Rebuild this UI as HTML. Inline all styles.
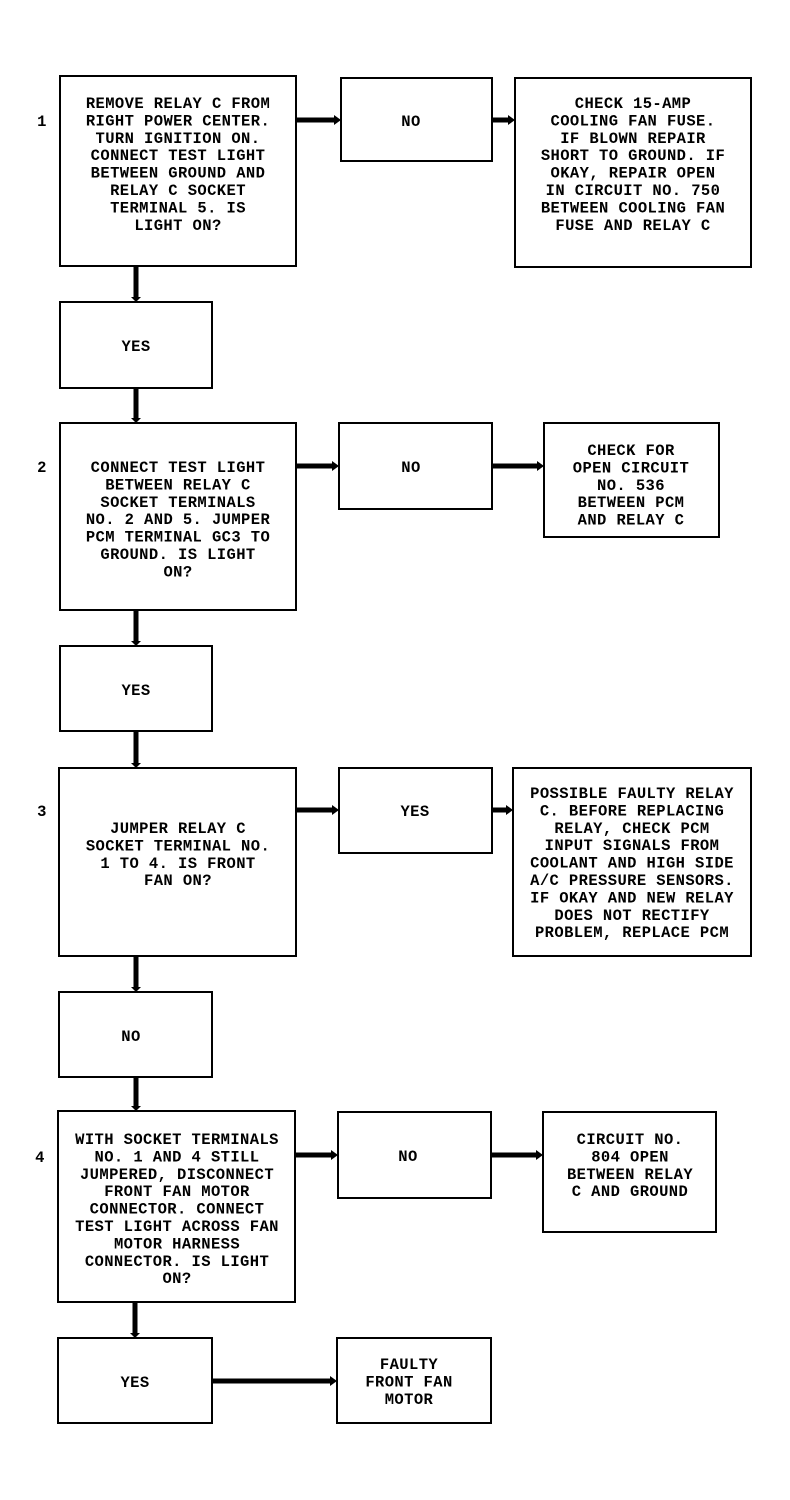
<!DOCTYPE html>
<html><head><meta charset="utf-8"><style>
html,body{margin:0;padding:0;background:#fff;}
svg{display:block}
text{font-family:"Liberation Mono",monospace;font-weight:bold;font-size:15.5px;fill:#000;text-anchor:middle;letter-spacing:0.4px}
rect{fill:#fff;stroke:#000;stroke-width:2}
.a{stroke:#000;stroke-width:5;fill:none}
</style></head><body>
<svg width="790" height="1500" viewBox="0 0 790 1500" xmlns="http://www.w3.org/2000/svg">
<!-- connectors -->
<g class="a">
<line x1="296" y1="120" x2="336" y2="120"/><line x1="492" y1="120" x2="510" y2="120"/>
<line x1="136" y1="266" x2="136" y2="298"/><line x1="136" y1="388" x2="136" y2="419"/>
<line x1="296" y1="466" x2="334" y2="466"/><line x1="492" y1="466" x2="539" y2="466"/>
<line x1="136" y1="610" x2="136" y2="642"/><line x1="136" y1="731" x2="136" y2="764"/>
<line x1="296" y1="810" x2="334" y2="810"/><line x1="492" y1="810" x2="508" y2="810"/>
<line x1="136" y1="956" x2="136" y2="988"/><line x1="136" y1="1077" x2="136" y2="1107"/>
<line x1="295" y1="1155" x2="333" y2="1155"/><line x1="491" y1="1155" x2="538" y2="1155"/>
<line x1="135" y1="1302" x2="135" y2="1334"/><line x1="212" y1="1381" x2="332" y2="1381"/>
</g>
<g fill="#000">
<polygon points="334,115 341,120 334,125"/><polygon points="508,115 515,120 508,125"/>
<polygon points="131,297 136,302 141,297"/><polygon points="131,418 136,423 141,418"/>
<polygon points="332,461 339,466 332,471"/><polygon points="537,461 544,466 537,471"/>
<polygon points="131,641 136,646 141,641"/><polygon points="131,763 136,768 141,763"/>
<polygon points="332,805 339,810 332,815"/><polygon points="506,805 513,810 506,815"/>
<polygon points="131,987 136,992 141,987"/><polygon points="131,1106 136,1111 141,1106"/>
<polygon points="331,1150 338,1155 331,1160"/><polygon points="536,1150 543,1155 536,1160"/>
<polygon points="130,1333 135,1338 140,1333"/><polygon points="330,1376 337,1381 330,1386"/>
</g>
<!-- boxes -->
<rect x="60" y="76" width="236" height="190"/><rect x="341" y="78" width="151" height="83"/><rect x="515" y="78" width="236" height="189"/>
<rect x="60" y="302" width="152" height="86"/>
<rect x="60" y="423" width="236" height="187"/><rect x="339" y="423" width="153" height="86"/><rect x="544" y="423" width="175" height="114"/>
<rect x="60" y="646" width="152" height="85"/>
<rect x="59" y="768" width="237" height="188"/><rect x="339" y="768" width="153" height="85"/><rect x="513" y="768" width="238" height="188"/>
<rect x="59" y="992" width="153" height="85"/>
<rect x="58" y="1111" width="237" height="191"/><rect x="338" y="1112" width="153" height="86"/><rect x="543" y="1112" width="173" height="120"/>
<rect x="58" y="1338" width="154" height="85"/><rect x="337" y="1338" width="154" height="85"/>
<!-- step numbers -->
<text x="42" y="126">1</text><text x="42" y="472">2</text><text x="42" y="816">3</text><text x="40" y="1162">4</text>
<!-- texts -->
<text x="178" y="108"><tspan x="178">REMOVE RELAY C FROM</tspan><tspan x="178" dy="17.4">RIGHT POWER CENTER.</tspan><tspan x="178" dy="17.4">TURN IGNITION ON.</tspan><tspan x="178" dy="17.4">CONNECT TEST LIGHT</tspan><tspan x="178" dy="17.4">BETWEEN GROUND AND</tspan><tspan x="178" dy="17.4">RELAY C SOCKET</tspan><tspan x="178" dy="17.4">TERMINAL 5. IS</tspan><tspan x="178" dy="17.4">LIGHT ON?</tspan></text>
<text x="411" y="126">NO</text>
<text x="633" y="108"><tspan x="633">CHECK 15-AMP</tspan><tspan x="633" dy="17.4">COOLING FAN FUSE.</tspan><tspan x="633" dy="17.4">IF BLOWN REPAIR</tspan><tspan x="633" dy="17.4">SHORT TO GROUND. IF</tspan><tspan x="633" dy="17.4">OKAY, REPAIR OPEN</tspan><tspan x="633" dy="17.4">IN CIRCUIT NO. 750</tspan><tspan x="633" dy="17.4">BETWEEN COOLING FAN</tspan><tspan x="633" dy="17.4">FUSE AND RELAY C</tspan></text>
<text x="136" y="351">YES</text>
<text x="178" y="472"><tspan x="178">CONNECT TEST LIGHT</tspan><tspan x="178" dy="17.4">BETWEEN RELAY C</tspan><tspan x="178" dy="17.4">SOCKET TERMINALS</tspan><tspan x="178" dy="17.4">NO. 2 AND 5. JUMPER</tspan><tspan x="178" dy="17.4">PCM TERMINAL GC3 TO</tspan><tspan x="178" dy="17.4">GROUND. IS LIGHT</tspan><tspan x="178" dy="17.4">ON?</tspan></text>
<text x="411" y="472">NO</text>
<text x="631" y="455"><tspan x="631">CHECK FOR</tspan><tspan x="631" dy="17.4">OPEN CIRCUIT</tspan><tspan x="631" dy="17.4">NO. 536</tspan><tspan x="631" dy="17.4">BETWEEN PCM</tspan><tspan x="631" dy="17.4">AND RELAY C</tspan></text>
<text x="136" y="695">YES</text>
<text x="178" y="833"><tspan x="178">JUMPER RELAY C</tspan><tspan x="178" dy="17.4">SOCKET TERMINAL NO.</tspan><tspan x="178" dy="17.4">1 TO 4. IS FRONT</tspan><tspan x="178" dy="17.4">FAN ON?</tspan></text>
<text x="415" y="816">YES</text>
<text x="632" y="798"><tspan x="632">POSSIBLE FAULTY RELAY</tspan><tspan x="632" dy="17.4">C. BEFORE REPLACING</tspan><tspan x="632" dy="17.4">RELAY, CHECK PCM</tspan><tspan x="632" dy="17.4">INPUT SIGNALS FROM</tspan><tspan x="632" dy="17.4">COOLANT AND HIGH SIDE</tspan><tspan x="632" dy="17.4">A/C PRESSURE SENSORS.</tspan><tspan x="632" dy="17.4">IF OKAY AND NEW RELAY</tspan><tspan x="632" dy="17.4">DOES NOT RECTIFY</tspan><tspan x="632" dy="17.4">PROBLEM, REPLACE PCM</tspan></text>
<text x="131" y="1041">NO</text>
<text x="177" y="1144"><tspan x="177">WITH SOCKET TERMINALS</tspan><tspan x="177" dy="17.4">NO. 1 AND 4 STILL</tspan><tspan x="177" dy="17.4">JUMPERED, DISCONNECT</tspan><tspan x="177" dy="17.4">FRONT FAN MOTOR</tspan><tspan x="177" dy="17.4">CONNECTOR. CONNECT</tspan><tspan x="177" dy="17.4">TEST LIGHT ACROSS FAN</tspan><tspan x="177" dy="17.4">MOTOR HARNESS</tspan><tspan x="177" dy="17.4">CONNECTOR. IS LIGHT</tspan><tspan x="177" dy="17.4">ON?</tspan></text>
<text x="408" y="1161">NO</text>
<text x="630" y="1144"><tspan x="630">CIRCUIT NO.</tspan><tspan x="630" dy="17.4">804 OPEN</tspan><tspan x="630" dy="17.4">BETWEEN RELAY</tspan><tspan x="630" dy="17.4">C AND GROUND</tspan></text>
<text x="135" y="1387">YES</text>
<text x="409" y="1369"><tspan x="409">FAULTY</tspan><tspan x="409" dy="17.4">FRONT FAN</tspan><tspan x="409" dy="17.4">MOTOR</tspan></text>
</svg>
</body></html>
